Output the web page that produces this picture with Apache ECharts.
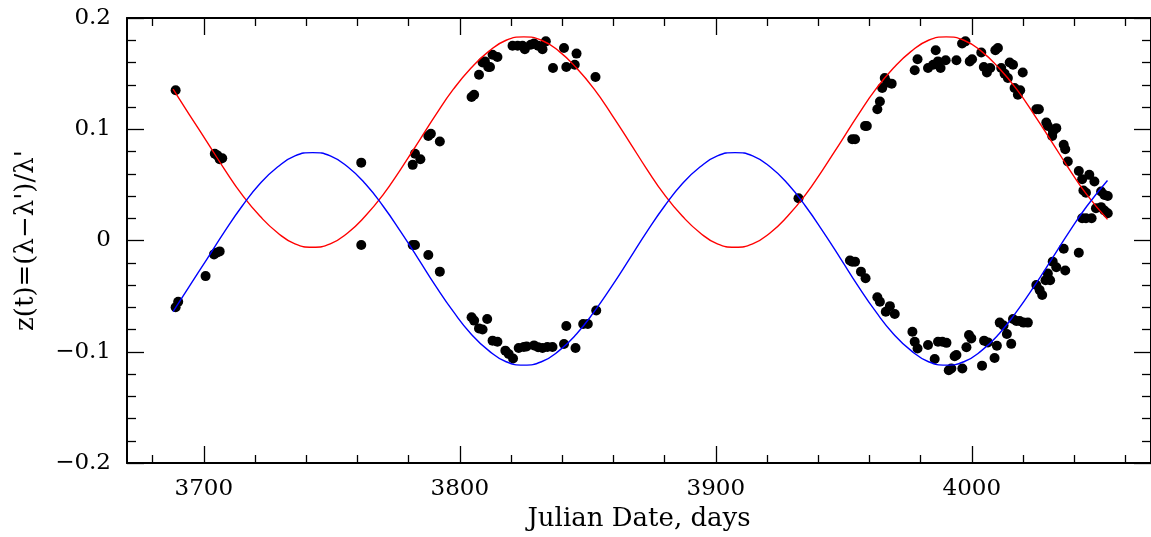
<!DOCTYPE html>
<html>
<head>
<meta charset="utf-8">
<title>z(t) vs Julian Date</title>
<script src="https://cdn.jsdelivr.net/npm/echarts@6/dist/echarts.min.js"></script>
<style>
    html, body { margin: 0; padding: 0; background: #fff; }
    #chartContainer { width: 1151px; height: 537px; }
</style>
</head>
<body>
<div id="chartContainer"></div>
<script>
// fitted curves
const fitDays = [3688, 3694.4, 3701.3, 3708.1, 3715, 3721.9, 3728.8, 3735.6, 3742.5,
    3749.4, 3756.3, 3763.1, 3770, 3776.9, 3783.8, 3790.6, 3797.5, 3804.4, 3811.3, 3818.1, 3825,
    3831.9, 3838.8, 3845.6, 3852.5, 3859.4, 3866.3, 3873.1, 3880, 3886.9, 3893.8, 3900.6, 3907.5,
    3914.4, 3921.3, 3928.1, 3935, 3941.9, 3948.8, 3955.6, 3962.5, 3969.4, 3976.3, 3983.1, 3990,
    3996.9, 4003.8, 4010.6, 4017.5, 4024.4, 4031.3, 4038.1, 4045, 4053];
const redFit = [0.136, 0.113, 0.0885, 0.064, 0.041, 0.022, 0.007, -0.003, -0.006,
    -0.003, 0.007, 0.022, 0.041, 0.064, 0.0885, 0.113, 0.136, 0.155, 0.170, 0.180, 0.183,
    0.180, 0.170, 0.155, 0.136, 0.113, 0.0885, 0.064, 0.041, 0.022, 0.007, -0.003, -0.006,
    -0.003, 0.007, 0.022, 0.041, 0.064, 0.0885, 0.113, 0.136, 0.155, 0.170, 0.180, 0.183,
    0.180, 0.170, 0.155, 0.136, 0.113, 0.0885, 0.064, 0.041, 0.019];
const blueFit = [-0.064, -0.041, -0.0165, 0.008, 0.031, 0.051, 0.066, 0.076, 0.079,
    0.076, 0.066, 0.051, 0.031, 0.008, -0.0165, -0.041, -0.064, -0.084, -0.099, -0.109, -0.112,
    -0.109, -0.099, -0.084, -0.064, -0.041, -0.0165, 0.008, 0.031, 0.051, 0.066, 0.076, 0.079,
    0.076, 0.066, 0.051, 0.031, 0.008, -0.0165, -0.041, -0.064, -0.084, -0.099, -0.109, -0.112,
    -0.109, -0.099, -0.084, -0.064, -0.041, -0.0165, 0.008, 0.031, 0.054];

// measured points, upper branch
const upperDays = [3689, 3704.3, 3705.3, 3706.2, 3707.2, 3761.5, 3781.6, 3782.5, 3784.6, 3787.7,
    3788.7, 3792.2, 3804.6, 3805.6, 3807.5, 3808.9, 3809.8, 3811.1, 3811.8, 3812.8, 3814.7,
    3820.6, 3822.6, 3824.5, 3825.4, 3827.7, 3829, 3830.6, 3832.3, 3833.6, 3836.4, 3840.7,
    3841.6, 3844.9, 3845.6, 3853, 3932.3, 3953.3, 3954.4, 3958.3, 3959, 3963.1, 3964.1, 3965,
    3966, 3967, 3968.7, 3977.7, 3978.8, 3982.9, 3984.9, 3985.9, 3986.8, 3987.8, 3989.8, 3994,
    3996.2, 3997.5, 3999.2, 4000.1, 4003.7, 4004.7, 4005.9, 4007.2, 4009.2, 4010.2, 4011.5,
    4012.8, 4014.1, 4014.8, 4016.1, 4016.7, 4018, 4018.9, 4019.9, 4025.2, 4026.2, 4029.1,
    4029.7, 4031.4, 4031.7, 4033, 4035.9, 4036.5, 4037.5, 4041.8, 4043.1, 4045.9, 4047.9,
    4043.6, 4044.6, 4050.5, 4051.8, 4053.1, 4048.5, 4050.5, 4051.8, 4053.1, 4043.1, 4044.6, 4046.8];
const upperZ = [0.135, 0.078, 0.0765, 0.073, 0.074, 0.070, 0.068, 0.078, 0.073, 0.094,
    0.096, 0.089, 0.129, 0.131, 0.149, 0.160, 0.161, 0.156, 0.156, 0.167, 0.165,
    0.175, 0.175, 0.175, 0.172, 0.176, 0.177, 0.175, 0.172, 0.179, 0.155, 0.173,
    0.156, 0.158, 0.168, 0.147, 0.038, 0.091, 0.091, 0.103, 0.103, 0.118, 0.125, 0.137,
    0.146, 0.142, 0.141, 0.153, 0.163, 0.155, 0.158, 0.171, 0.161, 0.155, 0.162, 0.162,
    0.177, 0.179, 0.161, 0.163, 0.169, 0.156, 0.151, 0.155, 0.171, 0.173, 0.155,
    0.150, 0.146, 0.160, 0.158, 0.137, 0.131, 0.135, 0.151, 0.118, 0.118, 0.106,
    0.103, 0.094, 0.098, 0.101, 0.086, 0.082, 0.071, 0.0625, 0.055, 0.059, 0.053,
    0.045, 0.043, 0.044, 0.041, 0.040, 0.029, 0.030, 0.027, 0.0245, 0.020, 0.020, 0.020];

// measured points, lower branch
const lowerDays = [3689, 3690, 3700.7, 3704, 3704.9, 3706.2, 3761.5, 3781.6, 3782.5, 3787.7,
    3792.2, 3804.6, 3805.6, 3807.5, 3808.9, 3810.7, 3812.8, 3814.7, 3817.8, 3819.1, 3820.8,
    3823, 3825, 3826.1, 3829, 3830.6, 3832.3, 3834.2, 3836.2, 3840.7, 3841.6, 3845.2, 3848.2,
    3850, 3853.3, 3952.4, 3953.3, 3954.4, 3956.7, 3958.5, 3963.1, 3964.1, 3966.4, 3968,
    3969.9, 3976.8, 3977.7, 3978.8, 3982.9, 3985.5, 3986.8, 3988.5, 3990.1, 3991, 3992,
    3993.3, 3994, 3996.3, 3997.9, 3998.9, 3999.8, 4004, 4004.8, 4006.3, 4008.9, 4009.8,
    4010.9, 4012.4, 4013.7, 4015.4, 4016.1, 4017.4, 4018.7, 4020.2, 4021.9, 4025.2, 4026.5,
    4027.5, 4028.8, 4029.7, 4030.6, 4031.6, 4033, 4035.9, 4036.5, 4041.8];
const lowerZ = [-0.060, -0.055, -0.032, -0.0125, -0.011, -0.0098, -0.004, -0.004, -0.004, -0.013,
    -0.028, -0.069, -0.072, -0.079, -0.080, -0.0705, -0.090, -0.091, -0.099, -0.102, -0.106,
    -0.0967, -0.0958, -0.0952, -0.0943, -0.096, -0.0967, -0.0958, -0.0958, -0.093, -0.0768, -0.0967, -0.075,
    -0.075, -0.063, -0.018, -0.019, -0.019, -0.028, -0.034, -0.051, -0.055, -0.064, -0.059,
    -0.066, -0.082, -0.091, -0.097, -0.094, -0.1065, -0.091, -0.091, -0.092, -0.1166, -0.115,
    -0.104, -0.103, -0.115, -0.096, -0.085, -0.088, -0.1125, -0.090, -0.0916, -0.1056, -0.0946,
    -0.0738, -0.0764, -0.084, -0.0929, -0.0705, -0.0723, -0.0723, -0.0738, -0.0738, -0.040, -0.0446,
    -0.049, -0.0357, -0.0297, -0.0357, -0.019, -0.024, -0.0074, -0.027, -0.011];

// tick positions on the time axis
const majorDays = [3700, 3800, 3900, 4000];
const minorDays = [3680, 3720, 3740, 3760, 3780, 3820, 3840, 3860, 3880,
    3920, 3940, 3960, 3980, 4020, 4040, 4060];

const FONT = 'DejaVu Serif';
const INK = '#000';

let chart = null;

document.addEventListener('DOMContentLoaded', function() {
    chart = echarts.init(document.getElementById('chartContainer'), null, { renderer: 'canvas' });
    drawChart();
});

function timeAxis(position, ticks, tickLen, withLabels, withLine) {
    const axis = {
        type: 'value',
        position: position,
        min: 3670,
        max: 4070,
        axisLine: { show: withLine, onZero: false, lineStyle: { color: INK, width: 2 } },
        axisTick: { show: true, inside: true, length: tickLen, customValues: ticks, lineStyle: { color: INK, width: 1.3 } },
        axisLabel: {
            show: withLabels, customValues: ticks, margin: 15, color: INK, fontFamily: FONT, fontSize: 23,
            formatter: v => String(v)
        },
        splitLine: { show: false }
    };
    if (withLabels) {
        axis.name = 'Julian Date, days';
        axis.nameLocation = 'middle';
        axis.nameGap = 43;
        axis.nameTextStyle = { color: INK, fontFamily: FONT, fontSize: 26 };
    }
    return axis;
}

function zAxis(position, withLabels) {
    const axis = {
        type: 'value',
        position: position,
        min: -0.2,
        max: 0.2,
        interval: 0.1,
        axisLine: { show: true, onZero: false, lineStyle: { color: INK, width: 2 } },
        axisTick: { show: true, inside: true, length: 17, lineStyle: { color: INK, width: 1.3 } },
        minorTick: { show: true, splitNumber: 5, length: 9, lineStyle: { color: INK, width: 1.3 } },
        axisLabel: {
            show: withLabels, margin: 16, color: INK, fontFamily: FONT, fontSize: 23,
            formatter: v => Math.abs(v) < 1e-9 ? '0' : v.toFixed(1).replace('-', '\u2212')
        },
        splitLine: { show: false },
        minorSplitLine: { show: false }
    };
    if (withLabels) {
        axis.name = 'z(t)=(\u03bb\u2212\u03bb\')/\u03bb\'';
        axis.nameLocation = 'middle';
        axis.nameGap = 88;
        axis.nameTextStyle = { color: INK, fontFamily: FONT, fontSize: 26 };
    }
    return axis;
}

function drawChart() {
    const pairs = (xs, ys) => xs.map((x, i) => [x, ys[i]]);

    const option = {
        animation: false,
        backgroundColor: '#fff',
        grid: { left: 127, top: 18, width: 1025, height: 448, containLabel: false },
        xAxis: [
            timeAxis('bottom', majorDays, 17, true, true),
            timeAxis('bottom', minorDays, 8, false, false),
            timeAxis('top', majorDays, 17, false, true),
            timeAxis('top', minorDays, 8, false, false)
        ],
        yAxis: [
            zAxis('left', true),
            zAxis('right', false)
        ],
        series: [
            {
                name: 'upper', type: 'scatter', data: pairs(upperDays, upperZ),
                symbol: 'circle', symbolSize: 10, itemStyle: { color: INK, opacity: 1 }, z: 2
            },
            {
                name: 'lower', type: 'scatter', data: pairs(lowerDays, lowerZ),
                symbol: 'circle', symbolSize: 10, itemStyle: { color: INK, opacity: 1 }, z: 2
            },
            {
                name: 'red fit', type: 'line', data: pairs(fitDays, redFit), smooth: true,
                showSymbol: false, lineStyle: { color: '#ff0000', width: 1.4 }, z: 3
            },
            {
                name: 'blue fit', type: 'line', data: pairs(fitDays, blueFit), smooth: true,
                showSymbol: false, lineStyle: { color: '#0000ff', width: 1.4 }, z: 3
            }
        ]
    };

    chart.setOption(option, true);
}
</script>
</body>
</html>
